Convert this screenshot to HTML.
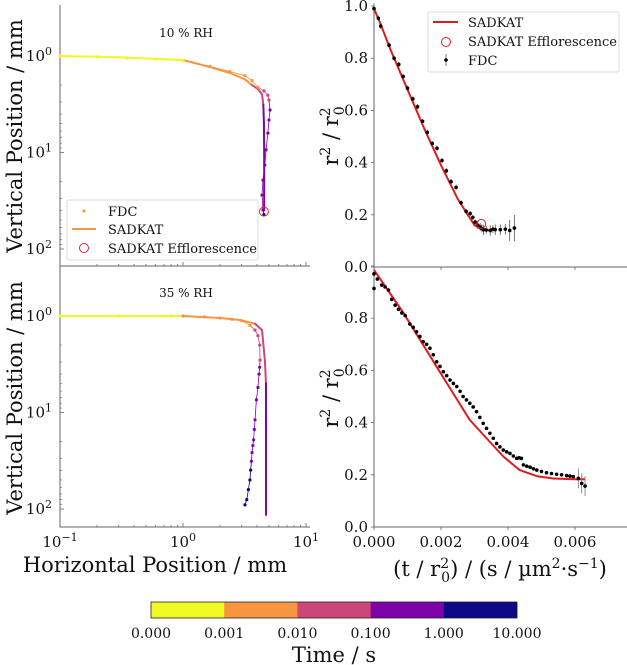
<!DOCTYPE html>
<html><head><meta charset="utf-8">
<style>
body{margin:0;background:#fff;}
svg{display:block;font-family:"DejaVu Serif","Liberation Serif",serif;}
</style></head>
<body>
<svg id="fig" width="627" height="665" viewBox="0 0 627 665" xmlns="http://www.w3.org/2000/svg"></svg>
<script>
// ---- data ----
const binColors = ["#f0f921","#f89540","#cc4778","#7e03a8","#0d0887"];
const binLabels = ["0.000","0.001","0.010","0.100","1.000","10.000"];
// top-left (10% RH)
const tlSadX = [0.1,0.3,0.6,1.0,1.66,2.41,3.19,3.64,4.07,4.39,4.5,4.55,4.57,4.57,4.57];
const tlSadY = [1.0,1.03,1.07,1.1,1.3,1.5,1.75,2.0,2.2,2.5,3.2,5,10,25,40];
const tlSadB = [0,0,0,0,1,1,1,1,2,2,2,3,3,3,3];
const tlFdcX = [0.1,0.2,0.35,0.6,1.0,1.66,2.41,3.19,3.64,4.07,4.55,4.9,5.0,5.1,5.0,4.9,4.73,4.63,4.47,4.39,4.47,4.55];
const tlFdcY = [1.0,1.02,1.05,1.08,1.12,1.28,1.45,1.6,1.8,2.1,2.3,2.55,2.86,3.63,4.6,6.3,9.4,13.5,19.3,27.6,39.5,44];
const tlFdcB = [0,0,0,0,0,1,1,1,1,1,2,2,2,3,3,3,3,3,3,3,3,4];
const tlEffX = [4.55], tlEffY = [41];
// bottom-left (35% RH)
const blSadX = [0.1,0.5,1.0,2.0,2.9,3.85,4.39,4.63,4.73,4.73,4.73];
const blSadY = [1.0,1.0,1.0,1.05,1.1,1.2,1.4,2.86,5,20,115];
const blSadB = [0,0,0,1,1,1,2,2,2,3,3];
const blFdcX = [0.1,0.3,0.8,1.0,1.5,2.0,2.5,3.0,3.5,3.85,4.07,4.2,4.23,4.2,4.15,4.07,3.95,3.85,3.8,3.75,3.7,3.64,3.6,3.55,3.5,3.4,3.3,3.19];
const blFdcY = [1,1,1,1,1.02,1.05,1.08,1.12,1.25,1.4,1.6,2.0,2.86,3.4,4,5.5,7.4,11.9,15,19.2,22,26,32,39.5,50,63,80,90.5];
const blFdcB = [0,0,0,1,1,1,1,1,1,2,2,2,2,3,3,3,3,3,3,3,3,3,3,4,4,4,4,4];
// top-right
const trSadX = [0,0.0002,0.0005,0.001,0.0015,0.002,0.0025,0.0028,0.003,0.0032,0.0035];
const trSadY = [0.99,0.93,0.83,0.68,0.53,0.39,0.26,0.2,0.16,0.145,0.14];
const trEffX = [0.0032], trEffY = [0.165];
const trFdcX = [0.0,0.00013,0.0002,0.00045,0.0006,0.00074,0.00087,0.001,0.00116,0.0013,0.00145,0.00159,0.00174,0.00188,0.00203,0.00216,0.0023,0.00245,0.0026,0.00275,0.00287,0.00295,0.00302,0.0031,0.00317,0.00322,0.00327,0.00335,0.00347,0.00355,0.00362,0.00377,0.00392,0.00405,0.00419];
const trFdcY = [0.99,0.953,0.923,0.85,0.80,0.776,0.73,0.685,0.644,0.614,0.558,0.516,0.473,0.455,0.408,0.369,0.327,0.305,0.246,0.213,0.205,0.19,0.172,0.16,0.153,0.148,0.143,0.142,0.14,0.145,0.143,0.143,0.145,0.14,0.149];
const trFdcE = [0.02,0.01,0.01,0.01,0.01,0.01,0.01,0.01,0.01,0.01,0.01,0.01,0.01,0.01,0.01,0.01,0.01,0.01,0.01,0.01,0.01,0.01,0.01,0.015,0.015,0.015,0.02,0.015,0.02,0.015,0.02,0.02,0.02,0.04,0.05];
// bottom-right
const brSadX = [0,0.00088,0.00187,0.00286,0.00386,0.00435,0.00485,0.00535,0.006,0.0063];
const brSadY = [0.985,0.82,0.614,0.41,0.27,0.218,0.195,0.186,0.183,0.183];
const brFdcX = [0,0,0.0001,0.00023,0.00033,0.00043,0.00053,0.00063,0.00073,0.00083,0.00093,0.00107,0.00117,0.00127,0.00137,0.00147,0.00157,0.00167,0.00177,0.00187,0.00197,0.00207,0.00217,0.00227,0.00237,0.00247,0.00257,0.00266,0.00276,0.00286,0.00296,0.00306,0.00316,0.00326,0.00336,0.00346,0.00356,0.00366,0.00376,0.00386,0.00396,0.00406,0.00416,0.00426,0.00433,0.0044,0.00446,0.00456,0.00466,0.00476,0.00486,0.005,0.00515,0.0053,0.00545,0.0056,0.00575,0.00585,0.00595,0.0061,0.0062,0.0063];
const brFdcY = [0.97,0.914,0.95,0.927,0.92,0.908,0.872,0.85,0.834,0.82,0.81,0.778,0.765,0.748,0.73,0.71,0.70,0.685,0.66,0.633,0.615,0.595,0.58,0.563,0.55,0.538,0.52,0.5,0.487,0.474,0.46,0.442,0.42,0.397,0.378,0.359,0.34,0.32,0.307,0.295,0.288,0.282,0.272,0.263,0.265,0.263,0.238,0.233,0.229,0.223,0.218,0.213,0.208,0.205,0.202,0.2,0.197,0.195,0.193,0.186,0.167,0.157];
const leftYTicks = [0,1,2];
const leftXTicks = [-1,0,1];
const rightYTicks = [0,0.2,0.4,0.6,0.8,1.0];
const rightXTicks = [0,0.002,0.004,0.006];

// ---- helpers ----
const svg = document.getElementById('fig');
const NS = "http://www.w3.org/2000/svg";
function el(tag, attrs, parent){
  const e = document.createElementNS(NS, tag);
  for (const k in attrs) e.setAttribute(k, attrs[k]);
  (parent||svg).appendChild(e);
  return e;
}
function txt(s, x, y, size, anchor, parent){
  const t = el('text', {x:x, y:y, 'font-size':size, 'text-anchor':anchor||'middle', fill:'#111'}, parent);
  t.textContent = s;
  return t;
}
const LX0 = 60, LXdec = 123;
function lx(v){ return LX0 + (Math.log10(v)+1)*LXdec; }
function lyFactory(y0){ return v => y0 + Math.log10(v)*96.5; }
const lyTop = lyFactory(56), lyBot = lyFactory(316);
const RX0 = 374, RXs = 67/0.002;
function rx(v){ return RX0 + v*RXs; }
function ryFactory(y0){ return v => y0 - v*261; }
const ryTop = ryFactory(267), ryBot = ryFactory(527);

function leftPanel(name, yf, top, bottom, sadX, sadY, sadB, fdcX, fdcY, fdcB, effX, effY, title){
  const g = el('g', {});
  
  
  const sp = el('path', {d:`M${LX0} ${top} V${bottom} H310`, stroke:'#666', 'stroke-width':1, fill:'none'}, g);
  
  
  for (let d=-1; d<1; d++) for (let m=1; m<10; m++){
    const x = lx(m*Math.pow(10,d));
    const len = m===1?4:2;
    el('line', {x1:x, x2:x, y1:bottom, y2:bottom-len, stroke:'#666', 'stroke-width':0.8}, g);
  }
  el('line', {x1:lx(10), x2:lx(10), y1:bottom, y2:bottom-4, stroke:'#666','stroke-width':0.8}, g);
  leftYTicks.forEach(p => {
    const y = yf(Math.pow(10,p));
    el('line', {x1:LX0, x2:LX0+4, y1:y, y2:y, stroke:'#666','stroke-width':0.8}, g);
    const t = el('text', {x:52, y:y+5, 'font-size':15, 'text-anchor':'end', fill:'#111'}, g);
    
    
    t.textContent = '10';
    const s = el('tspan', {dy:-6, 'font-size':11}, t); s.textContent = String(p);
    for (let m=2; m<10; m++){
      const ym = yf(m*Math.pow(10,p));
      if (ym > top && ym < bottom) el('line', {x1:LX0, x2:LX0+2, y1:ym, y2:ym, stroke:'#666','stroke-width':0.6}, g);
    }
  });
  const tt = txt(title, 186, yf(1)-19, 12, 'middle', g);
  
  
  for (let i=0; i<fdcX.length-1; i++){
    const ln = el('line', {x1:lx(fdcX[i]), y1:yf(fdcY[i]), x2:lx(fdcX[i+1]), y2:yf(fdcY[i+1]), stroke:binColors[fdcB[i+1]], 'stroke-width':0.8}, g);
    
    
  }
  for (let i=0; i<sadX.length-1; i++){
    const ln = el('line', {x1:lx(sadX[i]), y1:yf(sadY[i]), x2:lx(sadX[i+1]), y2:yf(sadY[i+1]), stroke:binColors[sadB[i+1]], 'stroke-width':2, 'stroke-linecap':'round'}, g);
    
    
  }
  for (let i=0; i<fdcX.length; i++){
    const c = el('circle', {cx:lx(fdcX[i]), cy:yf(fdcY[i]), r:1.6, fill:binColors[fdcB[i]]}, g);
    
    
  }
  for (let i=0; i<effX.length; i++){
    const c = el('circle', {cx:lx(effX[i]), cy:yf(effY[i]), r:4.5, fill:'none', stroke:'#e8202a', 'stroke-width':1}, g);
    
    
  }
  return g;
}
leftPanel('trajectory-10rh-panel', lyTop, 5, 266, tlSadX, tlSadY, tlSadB, tlFdcX, tlFdcY, tlFdcB, tlEffX, tlEffY, '10 % RH');
leftPanel('trajectory-35rh-panel', lyBot, 266, 527, blSadX, blSadY, blSadB, blFdcX, blFdcY, blFdcB, [], [], '35 % RH');

leftXTicks.forEach(p => {
  const t = el('text', {x:lx(Math.pow(10,p)), y:547, 'font-size':15, 'text-anchor':'middle', fill:'#111'});
  
  
  t.textContent = '10';
  const s = el('tspan', {dy:-6, 'font-size':11}, t); s.textContent = p===-1?'\u22121':String(p);
});

const lg = el('g', {});


el('rect', {x:67, y:200, width:191, height:60, rx:2, fill:'#fff', 'fill-opacity':0.85, stroke:'#ddd'}, lg);
el('circle', {cx:84, cy:211, r:1.6, fill:'#f0a030'}, lg);
el('line', {x1:72, x2:96, y1:229, y2:229, stroke:'#f89540', 'stroke-width':2}, lg);
el('circle', {cx:84, cy:248, r:4.5, fill:'none', stroke:'#e8202a'}, lg);
txt('FDC', 108, 216, 13, 'start', lg);
txt('SADKAT', 108, 234, 13, 'start', lg);
txt('SADKAT Efflorescence', 108, 253, 13, 'start', lg);

function rot(s, x, y, size, name){
  const t = el('text', {x:x, y:y, 'font-size':size, 'text-anchor':'middle', fill:'#111', transform:`rotate(-90 ${x} ${y})`});
  
  
  t.textContent = s; return t;
}
rot('Vertical Position / mm', 22, 136, 21, 'y-axis-title-10rh');
rot('Vertical Position / mm', 22, 398, 21, 'y-axis-title-35rh');
const hx = txt('Horizontal Position / mm', 155, 572, 21, 'middle');



function rightPanel(name, yf, top, bottom, skipTop){
  const g = el('g', {});
  
  
  el('path', {d:`M${RX0} ${top} V${bottom} H627`, stroke:'#666','stroke-width':1, fill:'none'}, g);
  rightYTicks.forEach(v => {
    const y = yf(v);
    el('line', {x1:RX0, x2:RX0-3, y1:y, y2:y, stroke:'#666','stroke-width':0.8}, g);
    if (skipTop && v === 1.0) return;
    const t = txt(v.toFixed(1), 368, y+5, 15, 'end', g);
    
    
  });
  rightXTicks.forEach(v => {
    el('line', {x1:rx(v), x2:rx(v), y1:bottom, y2:bottom+3, stroke:'#666','stroke-width':0.8}, g);
  });
  return g;
}
const gtr = rightPanel('normalized-area-10rh-panel', ryTop, 5, 267, false);
const gbr = rightPanel('normalized-area-35rh-panel', ryBot, 267, 527, true);
rightXTicks.forEach(v => {
  const t = txt(v.toFixed(3), rx(v), 547, 15, 'middle');
  
  
});
function poly(xs, ys, xf, yf){ return xs.map((x,i)=>`${i?'L':'M'}${xf(x).toFixed(1)} ${yf(ys[i]).toFixed(1)}`).join(' '); }
const l1 = el('path', {d:poly(trSadX, trSadY, rx, ryTop), stroke:'#e31a1c', 'stroke-width':2, fill:'none', 'stroke-linejoin':'round'}, gtr);


trFdcX.forEach((x,i) => {
  const X = rx(x), Y = ryTop(trFdcY[i]), e = trFdcE[i]*261;
  const eb = el('line', {x1:X, x2:X, y1:Y-e, y2:Y+e, stroke:'#555', 'stroke-width':0.8}, gtr);
  
  
  const c = el('circle', {cx:X, cy:Y, r:1.8, fill:'#000'}, gtr);
  
  
});
trEffX.forEach((x,i) => {
  const c = el('circle', {cx:rx(x), cy:ryTop(trEffY[i]), r:4.5, fill:'none', stroke:'#e8202a'}, gtr);
  
  
});
const l2 = el('path', {d:poly(brSadX, brSadY, rx, ryBot), stroke:'#e31a1c', 'stroke-width':2, fill:'none', 'stroke-linejoin':'round'}, gbr);


brFdcX.forEach((x,i) => {
  const X = rx(x), Y = ryBot(brFdcY[i]);
  if (x > 0.006){
    const eb = el('line', {x1:X, x2:X, y1:Y-10, y2:Y+10, stroke:'#777', 'stroke-width':0.8}, gbr);
    
    
  }
  const c = el('circle', {cx:X, cy:Y, r:1.8, fill:'#000'}, gbr);
  
  
});
const rl = el('g', {});


el('rect', {x:428, y:12, width:191, height:60, rx:2, fill:'#fff', 'fill-opacity':0.85, stroke:'#ddd'}, rl);
el('line', {x1:433, x2:458, y1:22, y2:22, stroke:'#e31a1c', 'stroke-width':2}, rl);
el('circle', {cx:446, cy:42, r:4.5, fill:'none', stroke:'#e8202a'}, rl);
el('line', {x1:446, x2:446, y1:54, y2:66, stroke:'#555', 'stroke-width':0.8}, rl);
el('circle', {cx:446, cy:60, r:1.8, fill:'#000'}, rl);
txt('SADKAT', 468, 27, 13, 'start', rl);
txt('SADKAT Efflorescence', 468, 46, 13, 'start', rl);
txt('FDC', 468, 65, 13, 'start', rl);
function ratioLabel(cx, cy, name){
  const t = el('text', {x:cx, y:cy, 'font-size':21, 'text-anchor':'middle', fill:'#111', transform:`rotate(-90 ${cx} ${cy})`});
  
  
  t.textContent = 'r';
  let s = el('tspan', {dy:-8, 'font-size':14}, t); s.textContent = '2';
  s = el('tspan', {dy:8}, t); s.textContent = ' / r';
  s = el('tspan', {dy:-8, 'font-size':14}, t); s.textContent = '2';
  s = el('tspan', {dy:14, dx:-8, 'font-size':14}, t); s.textContent = '0';
}
ratioLabel(338, 136, 'y-axis-title-10rh-right');
ratioLabel(338, 398, 'y-axis-title-35rh-right');
const xr = el('text', {x:500, y:576, 'font-size':21, 'text-anchor':'middle', fill:'#111'});


xr.textContent = '(t / r';
let ts = el('tspan', {dy:-8, 'font-size':14}, xr); ts.textContent = '2';
ts = el('tspan', {dy:14, dx:-8, 'font-size':14}, xr); ts.textContent = '0';
ts = el('tspan', {dy:-6}, xr); ts.textContent = ') / (s / \u00b5m';
ts = el('tspan', {dy:-8, 'font-size':14}, xr); ts.textContent = '2';
ts = el('tspan', {dy:8}, xr); ts.textContent = '\u00b7s';
ts = el('tspan', {dy:-8, 'font-size':14}, xr); ts.textContent = '\u22121';
ts = el('tspan', {dy:8}, xr); ts.textContent = ')';

const cb = el('g', {});


const cbX0 = 151, cbW = 366/binColors.length;
binColors.forEach((c,i) => {
  const r = el('rect', {x:cbX0+i*cbW, y:602, width:cbW+0.3, height:16, fill:c}, cb);
  
  
});
el('rect', {x:cbX0, y:602, width:366, height:16, fill:'none', stroke:'#222', 'stroke-width':0.8}, cb);
binLabels.forEach((s,i) => {
  const t = txt(s, cbX0+i*cbW, 638, 14, 'middle', cb);
  
  
});
const ct = txt('Time / s', 334, 662, 21, 'middle', cb);


</script>
</body></html>
